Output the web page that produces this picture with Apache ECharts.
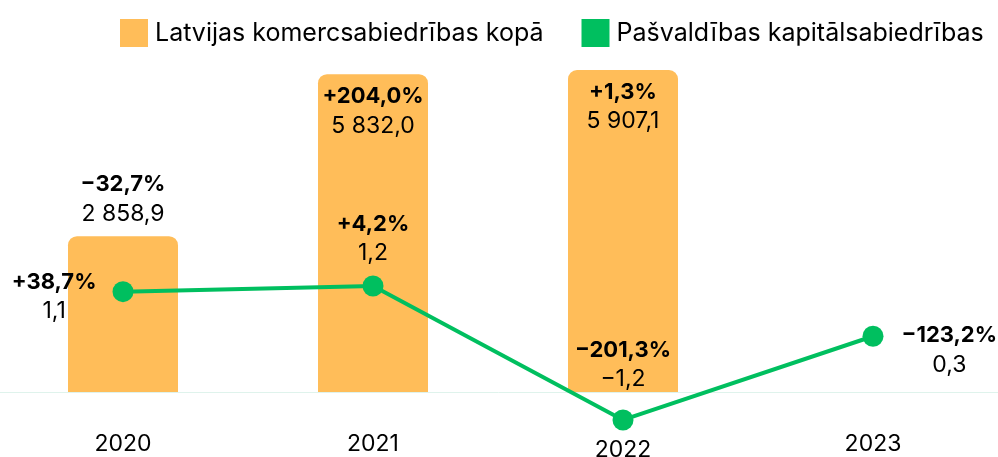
<!DOCTYPE html>
<html>
<head>
<meta charset="utf-8">
<script src="https://cdn.jsdelivr.net/npm/echarts@6/dist/echarts.min.js"></script>
<style>
  html, body { margin: 0; padding: 0; background: #fff; }
  #chart { width: 998px; height: 457px; }
</style>
</head>
<body>
<div id="chart"></div>
<script>
var years = ['2020', '2021', '2022', '2023'];
var totalValues = [2858.9, 5832.0, 5907.1, null];
var totalChanges = ['\u221232,7%', '+204,0%', '+1,3%', ''];
var municipalValues = [1.1, 1.2, -1.2, 0.3];
var municipalChanges = ['+38,7%', '+4,2%', '\u2212201,3%', '\u2212123,2%'];

var FONT = 'Inter';

// 2 858,9 style
function fmt(v) {
    var s = Math.abs(v).toFixed(1).split('.');
    var int = s[0].replace(/\B(?=(\d{3})+(?!\d))/g, ' ');
    return (v < 0 ? '\u2212' : '') + int + ',' + s[1];
}

var rich = {
    b: { fontFamily: FONT, fontWeight: 'bold', fontSize: 22, color: '#000', lineHeight: 29, align: 'center' },
    n: { fontFamily: FONT, fontSize: 23, color: '#000', lineHeight: 29, align: 'center' }
};

var barLabelPos = ['top', 'insideTop', 'insideTop', 'top'];
var lineLabelCfg = [
    { position: 'left', distance: 16, offset: [0, 5] },
    { position: 'top', distance: 8 },
    { position: 'top', distance: 16 },
    { position: 'right', distance: 18, offset: [0, 14] }
];

var barData = totalValues.map(function (v, i) {
    return {
        value: v,
        label: { position: barLabelPos[i], distance: 8 }
    };
});
var lineData = municipalValues.map(function (v, i) {
    return { value: v, label: lineLabelCfg[i] };
});

var chart = echarts.init(document.getElementById('chart'));
chart.setOption({
    animation: false,
    legend: {
        left: 115,
        top: 14,
        itemWidth: 28,
        itemHeight: 28,
        itemGap: 38,
        icon: 'rect',
        textStyle: { fontFamily: FONT, fontSize: 25, color: '#000', padding: [0, 0, 0, 2] },
        data: ['Latvijas komercsabiedrības kopā', 'Pašvaldības kapitālsabiedrības']
    },
    // x axis sits at the bar baseline; the negative line point hangs below the grid
    grid: { left: -2, right: 0, top: 40, bottom: 65, outerBoundsMode: 'none' },
    xAxis: {
        type: 'category',
        data: years,
        axisLine: { lineStyle: { color: '#dff3ec', width: 1 } },
        axisTick: { show: false },
        axisLabel: {
            margin: 41,
            fontFamily: FONT,
            fontSize: 23,
            color: '#000',
            formatter: function (v) {
                return v === '2022' ? '{low|' + v + '}' : v;
            },
            rich: { low: { fontFamily: FONT, fontSize: 23, color: '#000', padding: [6, 0, 0, 0] } }
        }
    },
    yAxis: [
        { type: 'value', min: 0, max: 6459, show: false, splitLine: { show: false } },
        { type: 'value', min: -0.699, max: 5.61, show: false, splitLine: { show: false } }
    ],
    series: [
        {
            name: 'Latvijas komercsabiedrības kopā',
            type: 'bar',
            barWidth: 110,
            yAxisIndex: 0,
            itemStyle: { color: '#ffbd59', borderRadius: [9, 9, 0, 0] },
            label: {
                show: true,
                rich: rich,
                formatter: function (p) {
                    return '{b|' + totalChanges[p.dataIndex] + '}\n{n|' + fmt(p.value) + '}';
                }
            },
            data: barData
        },
        {
            name: 'Pašvaldības kapitālsabiedrības',
            type: 'line',
            yAxisIndex: 1,
            clip: false,
            z: 3,
            symbol: 'circle',
            symbolSize: 21,
            itemStyle: { color: '#00bf5f' },
            lineStyle: { color: '#00bf5f', width: 4 },
            label: {
                show: true,
                rich: rich,
                formatter: function (p) {
                    return '{b|' + municipalChanges[p.dataIndex] + '}\n{n|' + fmt(p.value) + '}';
                }
            },
            data: lineData
        }
    ]
});
</script>
</body>
</html>
